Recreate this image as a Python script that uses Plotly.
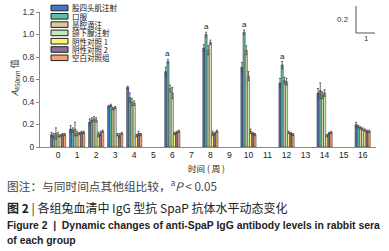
import plotly.graph_objects as go

weeks = [0, 1, 2, 3, 4, 6, 8, 10, 12, 14, 16]
tick_labels = [str(i) for i in range(17)]

group_names = ["股四头肌注射", "口服", "鼻腔滴注", "颌下腺注射", "阴性对照 1", "阴性对照 2", "空白对照组"]
colors = ["#4677c4", "#5fbfa4", "#dcc79f", "#c6e6bd", "#fff176", "#8c6e97", "#f4a36a"]

g1 = [0.11, 0.16, 0.22, 0.36, 0.53, 0.67, 0.88, 0.71, 0.57, 0.48, 0.20]
g2 = [0.10, 0.15, 0.24, 0.37, 0.44, 0.76, 1.00, 1.02, 0.73, 0.50, 0.18]
g3 = [0.12, 0.16, 0.25, 0.34, 0.40, 0.52, 0.86, 0.86, 0.59, 0.46, 0.17]
g4 = [0.11, 0.12, 0.24, 0.35, 0.39, 0.48, 0.93, 0.63, 0.58, 0.48, 0.16]
g5 = [0.10, 0.12, 0.11, 0.11, 0.10, 0.12, 0.12, 0.14, 0.13, 0.10, 0.15]
g6 = [0.11, 0.13, 0.12, 0.10, 0.12, 0.13, 0.12, 0.12, 0.12, 0.12, 0.14]
g7 = [0.11, 0.13, 0.14, 0.12, 0.11, 0.14, 0.14, 0.11, 0.11, 0.13, 0.14]

e1 = [0.02, 0.03, 0.03, 0.01, 0.01, 0.04, 0.03, 0.04, 0.04, 0.04, 0.02]
e2 = [0.02, 0.02, 0.02, 0.01, 0.04, 0.02, 0.02, 0.02, 0.03, 0.07, 0.01]
e3 = [0.05, 0.06, 0.02, 0.01, 0.03, 0.03, 0.04, 0.04, 0.03, 0.03, 0.01]
e4 = [0.02, 0.02, 0.02, 0.01, 0.02, 0.05, 0.02, 0.04, 0.03, 0.03, 0.01]
e5 = [0.01, 0.01, 0.02, 0.01, 0.01, 0.01, 0.02, 0.02, 0.01, 0.01, 0.01]
e6 = [0.01, 0.01, 0.02, 0.02, 0.02, 0.01, 0.01, 0.01, 0.01, 0.01, 0.01]
e7 = [0.01, 0.01, 0.01, 0.01, 0.01, 0.01, 0.01, 0.01, 0.01, 0.01, 0.01]

series = [g1, g2, g3, g4, g5, g6, g7]
errors = [e1, e2, e3, e4, e5, e6, e7]

sig_weeks = [6, 8, 10, 12]  # "a" marks above 口服 bars

W, H = 389, 251
L, R, T, B = 40, 13, 12, 104
pw, ph = W - L - R, H - T - B

def px(x):
    return (x - L) / pw

def py(y):
    return (T + ph - y) / ph

fig = go.Figure()
for name, vals, err, col in zip(group_names, series, errors, colors):
    fig.add_trace(go.Bar(
        x=weeks, y=vals, name=name,
        marker=dict(color=col, line=dict(color="#2b2b2b", width=0.5)),
        error_y=dict(type="data", array=err, color="#444", thickness=0.8, width=1),
        showlegend=False,
    ))

annotations = []
n = len(series)
bw = 0.8 / n
for w in sig_weeks:
    i = weeks.index(w)
    xo = w - 0.4 + 1.5 * bw
    annotations.append(dict(x=xo, y=g2[i] + e2[i], xref="x", yref="y", text="a",
                            showarrow=False, xanchor="center", yanchor="bottom", yshift=-1,
                            font=dict(size=8, color="#222", family="Liberation Sans")))

def note(x, y, text, size, color="#222", family="Noto Sans CJK SC", xanchor="left", **kw):
    annotations.append(dict(x=px(x), y=py(y), xref="paper", yref="paper", text=text,
                            showarrow=False, xanchor=xanchor, yanchor="middle",
                            font=dict(size=size, color=color, family=family), **kw))

shapes = []
# manual legend
lx0, ly0, item_h = 51, 5, 8.3
for k, (name, col) in enumerate(zip(group_names, colors)):
    yc = ly0 + k * item_h + 3
    shapes.append(dict(type="rect", xref="paper", yref="paper",
                       x0=px(lx0), x1=px(lx0 + 17), y0=py(yc - 2.8), y1=py(yc + 2.8),
                       fillcolor=col, line=dict(color="#222", width=1)))
    note(lx0 + 19, yc, name, 7.5, color="#111")

# scale indicator
shapes.append(dict(type="line", xref="paper", yref="paper", x0=px(356), x1=px(356),
                   y0=py(6), y1=py(33), line=dict(color="#555", width=1)))
shapes.append(dict(type="line", xref="paper", yref="paper", x0=px(356), x1=px(375),
                   y0=py(33), y1=py(33), line=dict(color="#555", width=1)))
note(343, 20, "0.2", 8, color="#333", family="Liberation Sans", xanchor="center")
note(366, 39, "1", 8, color="#333", family="Liberation Sans", xanchor="center")

# axis titles
note(15, 78, "<i>A</i><sub>450nm</sub> 值", 9, color="#333", xanchor="center", textangle=-90)
note(206, 168, "时间 ( 周 )", 8.5, xanchor="center")

# captions
note(5, 186, "图注：与同时间点其他组比较，<sup>a</sup><i>P</i> < 0.05", 11.7, color="#444")
note(5, 208, "<b>图 2</b> | 各组兔血清中 IgG 型抗 SpaP 抗体水平动态变化", 12, color="#222")
note(5, 225, "<b>Figure 2  |  Dynamic changes of anti-SpaP IgG antibody levels in rabbit sera</b>",
     10.4, color="#222", family="Liberation Sans")
note(5, 240, "<b>of each group</b>", 10.4, color="#222", family="Liberation Sans")

fig.update_layout(
    width=W, height=H,
    margin=dict(l=L, r=R, t=T, b=B, autoexpand=False),
    paper_bgcolor="white", plot_bgcolor="white",
    barmode="group", bargap=0.2, bargroupgap=0,
    showlegend=False,
    shapes=shapes, annotations=annotations,
    xaxis=dict(range=[-0.95, 16.7], tickmode="array", tickvals=list(range(17)),
               ticktext=tick_labels, ticks="", showgrid=False, zeroline=False,
               showline=True, linecolor="#888", linewidth=1, automargin=False,
               tickfont=dict(size=8.5, color="#222", family="Liberation Sans")),
    yaxis=dict(range=[0, 1.2], tickmode="array", tickvals=[0, 0.2, 0.4, 0.6, 0.8, 1.0, 1.2],
               ticktext=["0", "0.2", "0.4", "0.6", "0.8", "1.0", "1.2"],
               ticks="outside", ticklen=3, tickcolor="#888", showgrid=False, zeroline=False,
               showline=True, linecolor="#888", linewidth=1, automargin=False,
               tickfont=dict(size=8.5, color="#333", family="Liberation Sans")),
)

fig.write_html("out.html", config={"displayModeBar": False},
               post_script="document.body.style.margin='0';document.body.style.overflow='hidden';")
